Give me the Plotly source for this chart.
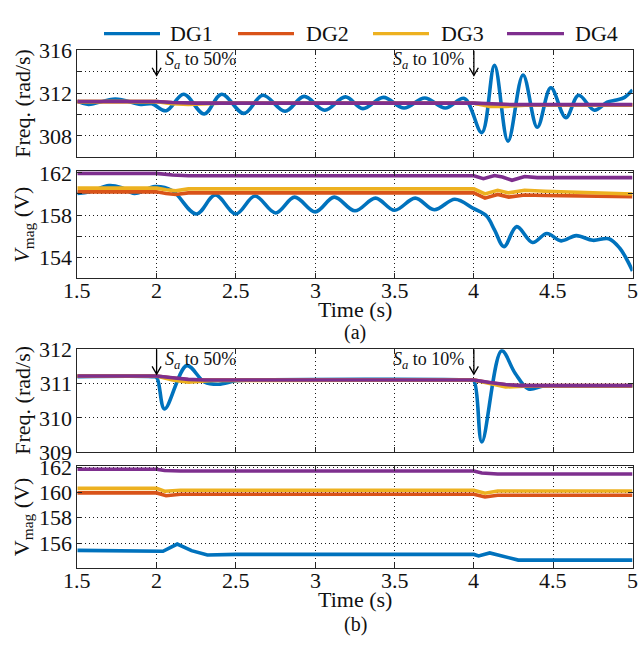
import plotly.graph_objects as go

# ---------------- data ----------------
# (a) frequency, rad/s
t_fa_dg1 = [1.5, 1.57, 1.74, 1.9, 1.97, 2.06, 2.17, 2.30, 2.41, 2.55, 2.67, 2.81, 2.93, 3.06,
            3.19, 3.30, 3.43, 3.56, 3.69, 3.82, 3.94, 4.05, 4.13, 4.215, 4.31, 4.40, 4.485,
            4.58, 4.66, 4.76, 4.84, 4.90, 4.95, 5.0]
f_a_dg1 = [311.25, 310.95, 311.45, 310.95, 311.0, 310.35, 311.9, 310.05, 311.9, 310.1, 311.8,
           310.3, 311.7, 310.4, 311.65, 310.55, 311.6, 310.6, 311.55, 310.6, 311.5, 308.3,
           314.6, 307.5, 313.7, 308.8, 312.5, 309.7, 311.8, 310.4, 311.15, 311.35, 311.6, 312.3]
t_fa_dg2 = [1.5, 2.0, 2.1, 2.25, 4.0, 4.1, 4.25, 5.0]
f_a_dg2 = [311.2, 311.2, 311.1, 311.05, 311.05, 310.95, 310.9, 310.9]
t_fa_dg3 = [1.5, 2.0, 2.1, 2.2, 2.4, 4.0, 4.1, 4.2, 4.35, 5.0]
f_a_dg3 = [311.2, 311.2, 311.0, 310.95, 311.05, 311.05, 310.75, 310.75, 310.9, 310.9]
t_fa_dg4 = [1.5, 2.0, 2.1, 2.25, 4.0, 4.1, 4.25, 5.0]
f_a_dg4 = [311.22, 311.22, 311.12, 311.06, 311.06, 310.97, 310.92, 310.92]

# (a) voltage magnitude, V
t_va_dg1 = [1.5, 1.58, 1.7, 1.78, 1.86, 1.99, 2.1, 2.25, 2.37, 2.50, 2.62, 2.75, 2.87, 3.0,
            3.12, 3.25, 3.38, 3.50, 3.63, 3.75, 3.88, 4.0, 4.08, 4.13, 4.19, 4.27, 4.37, 4.46,
            4.55, 4.645, 4.75, 4.85, 4.92, 4.96, 5.0]
v_a_dg1 = [160.05, 160.2, 160.8, 160.6, 160.05, 160.7, 160.3, 158.1, 159.9, 158.1, 159.8,
           158.2, 159.7, 158.3, 159.7, 158.4, 159.6, 158.45, 159.6, 158.5, 159.5, 158.6,
           157.9, 156.6, 155.0, 156.9, 155.4, 156.25, 155.55, 156.05, 155.6, 155.75, 154.85,
           153.9, 152.7]
t_va_dg2 = [1.5, 2.0, 2.06, 2.12, 2.2, 4.0, 4.07, 4.15, 4.22, 4.32, 4.45, 5.0]
v_a_dg2 = [160.2, 160.2, 160.05, 159.95, 160.1, 160.1, 159.6, 159.95, 159.7, 159.9, 159.85, 159.75]
t_va_dg3 = [1.5, 2.0, 2.06, 2.12, 2.2, 4.0, 4.07, 4.15, 4.22, 4.32, 4.45, 5.0]
v_a_dg3 = [160.55, 160.55, 160.4, 160.3, 160.48, 160.48, 160.0, 160.35, 160.1, 160.35, 160.25, 160.0]
t_va_dg4 = [1.5, 2.0, 2.1, 2.2, 4.0, 4.06, 4.13, 4.18, 4.24, 4.32, 4.4, 5.0]
v_a_dg4 = [161.95, 161.95, 161.8, 161.72, 161.72, 161.45, 161.75, 161.6, 161.3, 161.65, 161.55, 161.55]

# (b) frequency, rad/s
t_fb_dg1 = [1.5, 1.97, 2.0, 2.05, 2.19, 2.30, 2.39, 2.5, 2.6, 3.97, 4.0, 4.05, 4.175, 4.26,
            4.345, 4.44, 4.55, 5.0]
f_b_dg1 = [311.2, 311.2, 311.18, 310.26, 311.52, 311.05, 310.98, 311.08, 311.1, 311.1, 311.08,
           309.3, 311.95, 311.3, 310.84, 310.93, 310.93, 310.93]
t_fb_dg2 = [1.5, 2.0, 2.1, 2.2, 2.3, 4.0, 4.1, 4.2, 4.3, 5.0]
f_b_dg2 = [311.22, 311.22, 311.16, 311.11, 311.1, 311.1, 311.02, 310.96, 310.94, 310.94]
t_fb_dg3 = [1.5, 2.0, 2.1, 2.2, 2.35, 4.0, 4.1, 4.2, 4.35, 5.0]
f_b_dg3 = [311.22, 311.22, 311.1, 311.04, 311.09, 311.1, 311.0, 310.9, 310.93, 310.93]
t_fb_dg4 = [1.5, 2.0, 2.1, 2.2, 2.3, 4.0, 4.1, 4.2, 4.3, 5.0]
f_b_dg4 = [311.22, 311.22, 311.17, 311.12, 311.1, 311.1, 311.03, 310.97, 310.94, 310.94]

# (b) voltage magnitude, V
t_vb_dg1 = [1.5, 2.0, 2.04, 2.13, 2.22, 2.32, 2.5, 4.0, 4.03, 4.1, 4.2, 4.28, 5.0]
v_b_dg1 = [155.42, 155.42, 155.35, 155.92, 155.4, 155.05, 155.1, 155.1, 154.98, 155.22, 154.9,
           154.65, 154.65]
t_vb_dg2 = [1.5, 2.0, 2.06, 2.15, 4.0, 4.07, 4.15, 5.0]
v_b_dg2 = [159.97, 159.97, 159.75, 159.87, 159.87, 159.65, 159.78, 159.78]
t_vb_dg3 = [1.5, 2.0, 2.05, 2.15, 4.0, 4.07, 4.15, 5.0]
v_b_dg3 = [160.33, 160.33, 160.1, 160.18, 160.18, 159.95, 160.12, 160.12]
t_vb_dg4 = [1.5, 2.0, 2.05, 2.15, 4.0, 4.05, 4.15, 5.0]
v_b_dg4 = [161.85, 161.85, 161.75, 161.7, 161.7, 161.55, 161.47, 161.47]

names = ["DG1", "DG2", "DG3", "DG4"]
colors = ["#0072BD", "#D95319", "#EDB120", "#7E2F8E"]

x_ticks = [1.5, 2, 2.5, 3, 3.5, 4, 4.5, 5]
x_labels = ["1.5", "2", "2.5", "3", "3.5", "4", "4.5", "5"]
event_times = [2, 4]

panels = [
    dict(series=[(t_fa_dg1, f_a_dg1), (t_fa_dg2, f_a_dg2), (t_fa_dg3, f_a_dg3), (t_fa_dg4, f_a_dg4)],
         yrange=[306, 316], yticks=[308, 312, 316], yminor=[310, 314]),
    dict(series=[(t_va_dg1, v_a_dg1), (t_va_dg2, v_a_dg2), (t_va_dg3, v_a_dg3), (t_va_dg4, v_a_dg4)],
         yrange=[152, 162.15], yticks=[154, 158, 162], yminor=[156, 160]),
    dict(series=[(t_fb_dg1, f_b_dg1), (t_fb_dg2, f_b_dg2), (t_fb_dg3, f_b_dg3), (t_fb_dg4, f_b_dg4)],
         yrange=[309, 312], yticks=[309, 310, 311, 312], yminor=[]),
    dict(series=[(t_vb_dg1, v_b_dg1), (t_vb_dg2, v_b_dg2), (t_vb_dg3, v_b_dg3), (t_vb_dg4, v_b_dg4)],
         yrange=[154, 162.1], yticks=[156, 158, 160, 162], yminor=[]),
]

# ---------------- layout geometry (pixels) ----------------
W, H = 640, 646
X_LEFT, X_RIGHT = 77.3, 632.5
BOXES = [(40, 151), (165.7, 277), (350.7, 458), (472.3, 578.7)]


def px_x(p):
    return p / W


def px_y(p):
    return 1 - p / H


FONT = "Liberation Serif"
TXT = "#111111"
AX = "#262626"
GRID = dict(showgrid=True, gridcolor="#1a1a1a", griddash="1px,3px", gridwidth=1)

fig = go.Figure()
layout = dict(
    width=W, height=H,
    margin=dict(l=0, r=0, t=0, b=0),
    paper_bgcolor="white", plot_bgcolor="white",
    showlegend=False,
    font=dict(family=FONT, size=22, color=TXT),
)

for i, p in enumerate(panels):
    k = "" if i == 0 else str(i + 1)
    top, bot = BOXES[i]
    layout["xaxis" + k] = dict(
        domain=[px_x(X_LEFT), px_x(X_RIGHT)], anchor="y" + k,
        range=[1.5, 5], tickvals=x_ticks, showticklabels=False,
        showline=True, linecolor=AX, linewidth=1, mirror="allticks",
        ticks="inside", ticklen=5, tickcolor=AX, zeroline=False, **GRID,
    )
    yax = dict(
        domain=[px_y(bot), px_y(top)], anchor="x" + k,
        range=p["yrange"], tickvals=p["yticks"],
        tickfont=dict(family=FONT, size=22, color=TXT),
        showline=True, linecolor=AX, linewidth=1, mirror="allticks",
        ticks="inside", ticklen=5, tickcolor=AX, zeroline=False, **GRID,
    )
    if p["yminor"]:
        yax["minor"] = dict(tickvals=p["yminor"], ticks="inside", ticklen=5, tickcolor=AX, **GRID)
    layout["yaxis" + k] = yax
    for j, (tt, vv) in enumerate(p["series"]):
        oscill = (j == 0 and i < 3)
        fig.add_trace(go.Scatter(
            x=tt, y=vv, mode="lines", name=names[j],
            line=dict(color=colors[j], width=3.6,
                      shape="spline" if oscill else "linear",
                      smoothing=1.0 if oscill else None),
            xaxis="x" + k, yaxis="y" + k, showlegend=False,
        ))

annotations = []
shapes = []

# time tick labels under the voltage panels
for k, label_y in [("2", 289.5), ("4", 591.5)]:
    for tv, tl in zip(x_ticks, x_labels):
        annotations.append(dict(xref="x" + k, yref="paper", x=tv, y=px_y(label_y),
                                text=tl, showarrow=False, xanchor="center", yanchor="middle",
                                font=dict(family=FONT, size=22, color=TXT)))

# legend row
leg_lines = [(104, 160), (238, 294), (373, 429), (507, 564)]
leg_text_x = [168, 304, 439, 573]
LEG_Y = 22.5
for j in range(4):
    x0, x1 = leg_lines[j]
    shapes.append(dict(type="line", xref="paper", yref="paper",
                       x0=px_x(x0), x1=px_x(x1), y0=px_y(LEG_Y), y1=px_y(LEG_Y),
                       line=dict(color=colors[j], width=3.4)))
    annotations.append(dict(xref="paper", yref="paper", x=px_x(leg_text_x[j]), y=px_y(LEG_Y),
                            text=names[j], showarrow=False, xanchor="left", yanchor="middle",
                            font=dict(family=FONT, size=22, color=TXT)))

# y-axis titles
y_titles = ["Freq. (rad/s)", "<i>V</i><sub>mag</sub> (V)", "Freq. (rad/s)", "V<sub>mag</sub> (V)"]
for i, ttl in enumerate(y_titles):
    top, bot = BOXES[i]
    annotations.append(dict(xref="paper", yref="paper", x=px_x(23), y=px_y((top + bot) / 2),
                            text=ttl, textangle=-90, showarrow=False,
                            xanchor="center", yanchor="middle",
                            font=dict(family=FONT, size=22, color=TXT)))

# x-axis titles and sub-figure captions
for ty, cy, cap in [(309, 333, "(a)"), (611.5, 637, "(b)")]:
    annotations.append(dict(xref="paper", yref="paper", x=px_x(355), y=px_y(ty),
                            text="Time (s)", showarrow=False, xanchor="center", yanchor="middle",
                            font=dict(family=FONT, size=22, color=TXT)))
    annotations.append(dict(xref="paper", yref="paper", x=px_x(355), y=px_y(cy),
                            text=cap, showarrow=False, xanchor="center", yanchor="middle",
                            font=dict(family=FONT, size=20, color=TXT)))

# event markers on the frequency panels: downward arrows from the top edge and notes
ARROW = dict(color="#000000", width=1.3)
for k, top_px, ax_range in [("", 40, panels[0]["yrange"]), ("3", 350.7, panels[2]["yrange"])]:
    i = 0 if k == "" else 2
    bot_px = BOXES[i][1]
    per_px = (ax_range[1] - ax_range[0]) / (bot_px - top_px)
    y_top = ax_range[1]
    y_tip = y_top - 26 * per_px
    y_arm = y_tip + 8 * per_px
    dx = 4.5 * (5 - 1.5) / (X_RIGHT - X_LEFT)
    for tx in event_times:
        shapes.append(dict(type="line", xref="x" + k, yref="y" + k,
                           x0=tx, x1=tx, y0=y_top, y1=y_tip, line=ARROW))
        shapes.append(dict(type="path", xref="x" + k, yref="y" + k,
                           path=f"M{tx - dx},{y_arm} L{tx},{y_tip} L{tx + dx},{y_arm}",
                           line=ARROW))
    text_y = top_px + (10 if k == "" else 11.5)
    annotations.append(dict(xref="paper", yref="paper", x=px_x(163), y=px_y(text_y),
                            text="<i>S<sub>a</sub></i> to 50%", showarrow=False,
                            xanchor="left", yanchor="middle",
                            font=dict(family=FONT, size=18, color=TXT)))
    annotations.append(dict(xref="paper", yref="paper", x=px_x(466), y=px_y(text_y),
                            text="<i>S<sub>a</sub></i> to 10%", showarrow=False,
                            xanchor="right", yanchor="middle",
                            font=dict(family=FONT, size=18, color=TXT)))

layout["annotations"] = annotations
layout["shapes"] = shapes
fig.update_layout(**layout)

fig.write_html("out.html")
